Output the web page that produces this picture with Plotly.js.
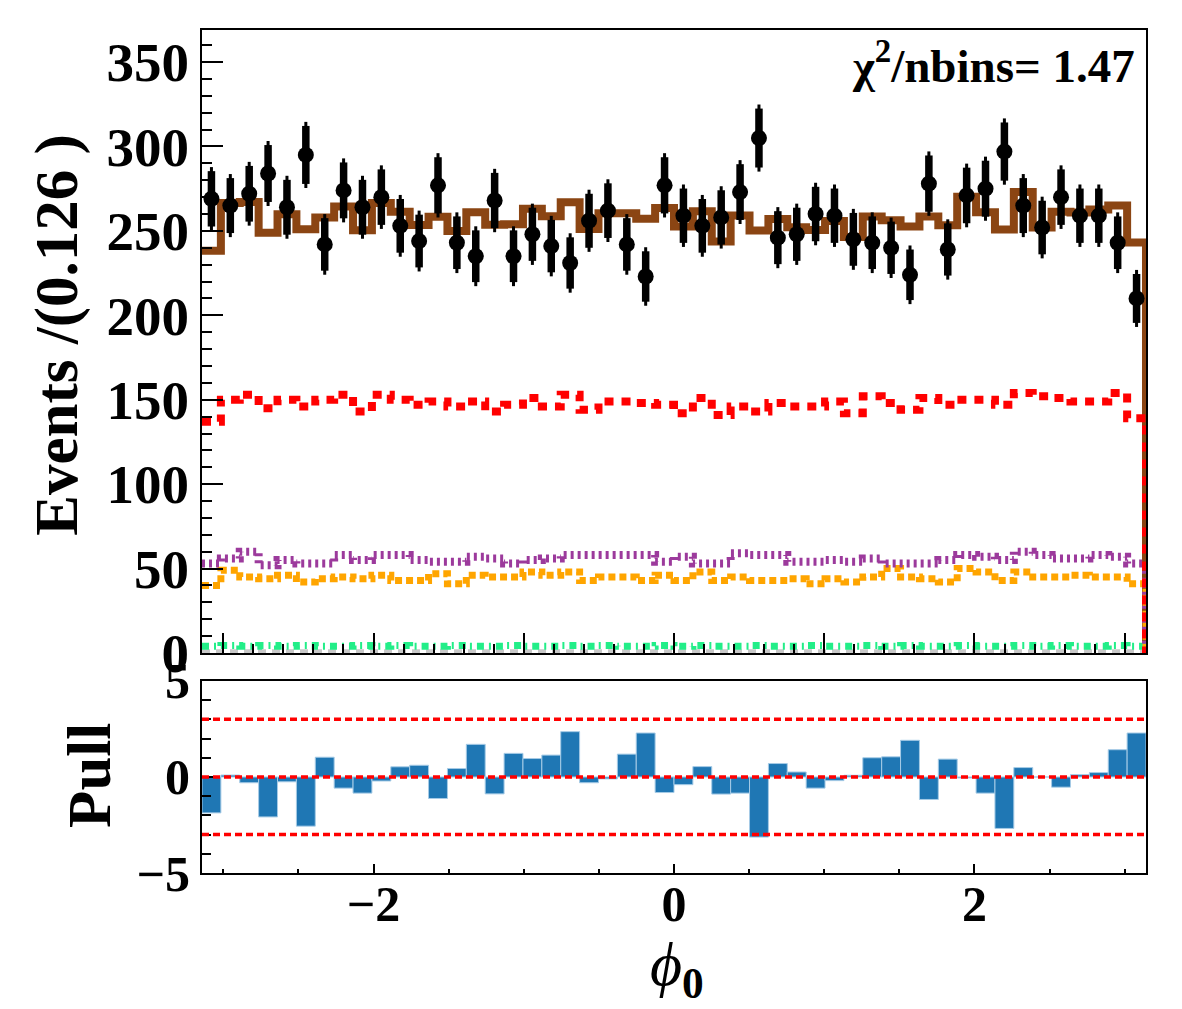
<!DOCTYPE html>
<html>
<head>
<meta charset="utf-8">
<script src="https://cdn.plot.ly/plotly-3.0.1.min.js"></script>
<style>
  html, body { margin: 0; padding: 0; background: #ffffff; }
  #chart { width: 1182px; height: 1009px; }
</style>
</head>
<body>
<div id="chart"></div>
<script>
// phi_0 distribution: 50 bins over [-pi, pi]
const nBins = 50;
const xMin = -Math.PI;
const xMax = Math.PI;

// observed events per bin
const dataCounts = [269,265,272,284,264,295,242,274,264,270,253,244,277,243,235,268,235,248,241,231,
                    256,262,242,223,277,259,253,258,273,305,246,248,260,259,245,243,240,224,278,239,
                    271,275,297,265,252,270,259,259,243,210];

// total fit model per bin
const fitTotal = [238.3,266.6,267.1,248.9,259.9,251.0,258.0,264.4,250.4,266.5,261.4,253.5,258.4,249.9,261.1,
                  253.6,253.9,263.1,258.7,266.9,251.2,260.4,260.5,257.2,263.5,252.6,261.6,243.7,259.1,250.3,
                  257.0,252.1,250.6,255.9,246.4,258.6,256.3,252.6,258.5,253.4,270.2,261.1,250.8,273.0,252.0,
                  261.3,260.9,262.7,265.1,243.2];

// fit components per bin
const compRed = [137,150,153,145,150,146,150,153,143,153,150,147,149,146,149,143,147,151,146,153,
                 144,149,149,148,147,142,151,141,146,143,148,146,146,149,142,152,148,144,151,147,
                 150,150,147,154,152,151,149,149,154,139];
const compPurple = [53,56,60,52,55,53,53,58,55,58,58,55,54,54,57,56,53,55,56,58,
                    58,58,58,58,54,57,53,53,59,58,58,54,54,55,54,56,53,53,53,55,
                    58,57,55,60,58,56,56,58,57,53];
const compOrange = [40,49,45,44,46,42,44,45,44,46,43,43,47,41,46,45,45,48,46,48,
                    43,45,45,43,46,43,48,43,45,43,43,44,41,44,42,45,50,45,44,42,
                    50,48,43,48,45,45,46,45,45,41];
const compGreen = [4,4.5,4,4.5,4,4.5,4,4,4.5,4,4.5,4,4,4.5,4,4,4.5,4,4,4.5,
                   4,4.5,4,4,4.5,4,4.5,4,4,4.5,4,4,4.5,4,4,4.5,4,4.5,4,4,
                   4.5,4,4,4.5,4,4.5,4,4,4.5,4];
const compGray = [0.8,0.8,0.8,0.8,0.8,0.8,0.8,0.8,0.8,0.8,0.8,0.8,0.8,0.8,0.8,0.8,0.8,0.8,0.8,0.8,
                  0.8,0.8,0.8,0.8,0.8,0.8,0.8,0.8,0.8,0.8,0.8,0.8,0.8,0.8,0.8,0.8,0.8,0.8,0.8,0.8,
                  0.8,0.8,0.8,0.8,0.8,0.8,0.8,0.8,0.8,0.8];

// pull per bin
const pulls = [-1.87,0.10,-0.30,-2.08,-0.25,-2.56,1.03,-0.58,-0.84,-0.21,0.53,0.61,-1.12,0.44,1.70,
               -0.88,1.23,0.96,1.14,2.36,-0.30,-0.10,1.19,2.29,-0.81,-0.40,0.54,-0.89,-0.84,-3.13,
               0.70,0.26,-0.58,-0.19,0.09,1.00,1.05,1.91,-1.17,0.93,-0.05,-0.84,-2.68,0.49,0.00,
               -0.53,0.12,0.23,1.42,2.29];
const pullRefLines = [-3, 0, 3];

const chiLabel = 'χ<sup>2</sup>/nbins= 1.47';

const binW = (xMax - xMin) / nBins;
const centers = dataCounts.map((_, i) => xMin + (i + 0.5) * binW);
const errs = dataCounts.map(v => Math.sqrt(v));
const errCaps = dataCounts.map(v => Math.sqrt(v) + 2.4);

// histogram outline: bin left edges with hv steps, dropping to zero at the upper edge
function stepTrace(vals, color, width, dash, name) {
  const xs = [], ys = [];
  for (let i = 0; i < nBins; i++) { xs.push(xMin + i * binW); ys.push(vals[i]); }
  xs.push(xMax); ys.push(vals[nBins - 1]);
  xs.push(xMax); ys.push(0);
  return {
    type: 'scatter', mode: 'lines', name: name, x: xs, y: ys,
    xaxis: 'x', yaxis: 'y', hoverinfo: 'skip',
    line: { shape: 'hv', color: color, width: width, dash: dash }
  };
}

const serif = 'Liberation Serif, DejaVu Serif, serif';

const traces = [
  stepTrace(fitTotal, '#8b4513', 8, 'solid', 'total'),
  stepTrace(compGray, '#c8c8c8', 5, '8px,6px', 'gray'),
  stepTrace(compGreen, '#22ee88', 7, '7px,5px,2px,5px', 'green'),
  stepTrace(compOrange, '#ffa500', 7, '7px,4px', 'orange'),
  stepTrace(compPurple, '#9c3a9c', 8, '3px,4px', 'purple'),
  stepTrace(compRed, '#ff0000', 8, '9px,8px', 'red'),
  {
    type: 'scatter', mode: 'markers', x: centers, y: dataCounts, xaxis: 'x', yaxis: 'y',
    marker: { size: 1, color: 'rgba(0,0,0,0)' },
    error_y: { type: 'data', array: errCaps, visible: true, color: '#000000', thickness: 3, width: 0 },
    hoverinfo: 'skip'
  },
  {
    type: 'scatter', mode: 'markers', name: 'data', x: centers, y: dataCounts, xaxis: 'x', yaxis: 'y',
    marker: { size: 16, color: '#000000', symbol: 'circle' },
    error_y: { type: 'data', array: errs, visible: true, color: '#000000', thickness: 7.5, width: 0 }
  },
  {
    type: 'bar', name: 'pull', x: centers, y: pulls, width: binW, xaxis: 'x2', yaxis: 'y2',
    marker: { color: '#1f77b4', line: { color: '#a6cbe6', width: 1 } }
  }
];

const shapes = pullRefLines.map(v => ({
  type: 'line', xref: 'x2', yref: 'y2', x0: xMin, x1: xMax, y0: v, y1: v,
  layer: 'above', line: { color: '#ff0000', width: 3.5, dash: '7px,4px' }
}));

const frame = { showline: true, linecolor: '#000000', linewidth: 2, mirror: true,
                showgrid: false, zeroline: false };

const layout = {
  width: 1182, height: 1009,
  margin: { l: 202, r: 36, t: 30, b: 136 },
  paper_bgcolor: '#ffffff', plot_bgcolor: '#ffffff',
  showlegend: false,
  bargap: 0,
  font: { family: serif, color: '#000000' },
  xaxis: Object.assign({}, frame, {
    domain: [0, 1], anchor: 'y', range: [xMin, xMax],
    showticklabels: false, ticks: 'inside', tick0: 0, dtick: 1, ticklen: 20, tickwidth: 2, tickcolor: '#000',
    minor: { ticks: 'inside', dtick: 0.2, tick0: 0, ticklen: 9, tickwidth: 2, tickcolor: '#000' }
  }),
  yaxis: Object.assign({}, frame, {
    domain: [0.261, 1], anchor: 'x', range: [0, 369],
    ticks: 'inside', tick0: 0, dtick: 50, ticklen: 21, tickwidth: 2, tickcolor: '#000',
    minor: { ticks: 'inside', dtick: 10, ticklen: 10, tickwidth: 2, tickcolor: '#000' },
    tickfont: { family: serif, size: 55, weight: 'bold', color: '#000' }
  }),
  xaxis2: Object.assign({}, frame, {
    domain: [0, 1], anchor: 'y2', range: [xMin, xMax],
    ticks: 'inside', tick0: 0, dtick: 2, ticklen: 9, tickwidth: 2, tickcolor: '#000',
    minor: { ticks: 'inside', dtick: 0.5, tick0: 0, ticklen: 4, tickwidth: 2, tickcolor: '#000' },
    ticklabelstandoff: -14,
    tickfont: { family: serif, size: 50, weight: 'bold', color: '#000' }
  }),
  yaxis2: Object.assign({}, frame, {
    domain: [0, 0.2278], anchor: 'x2', range: [-5, 5],
    ticks: 'inside', tick0: 0, dtick: 5, ticklen: 16, tickwidth: 2, tickcolor: '#000',
    minor: { ticks: 'inside', dtick: 1, ticklen: 9, tickwidth: 2, tickcolor: '#000' },
    tickfont: { family: serif, size: 50, weight: 'bold', color: '#000' }
  }),
  shapes: shapes,
  annotations: [
    { text: 'Events /(0.126 )', xref: 'paper', yref: 'paper', x: -0.153, y: 0.638,
      xanchor: 'center', yanchor: 'middle', textangle: -90, showarrow: false,
      font: { family: serif, size: 61, weight: 'bold', color: '#000' } },
    { text: 'Pull', xref: 'paper', yref: 'paper', x: -0.119, y: 0.116,
      xanchor: 'center', yanchor: 'middle', textangle: -90, showarrow: false,
      font: { family: serif, size: 61, weight: 'bold', color: '#000' } },
    { text: '<i>ϕ</i><sub><b>0</b></sub>', xref: 'paper', yref: 'paper', x: 0.503, y: -0.113,
      xanchor: 'center', yanchor: 'middle', showarrow: false,
      font: { family: serif, size: 62, weight: 'normal', color: '#000' } },
    { text: chiLabel, xref: 'paper', yref: 'paper', x: 0.990, y: 0.962,
      xanchor: 'right', yanchor: 'middle', showarrow: false,
      font: { family: serif, size: 47, weight: 'bold', color: '#000' } }
  ]
};

Plotly.newPlot('chart', traces, layout, { displayModeBar: false, staticPlot: true });
</script>
</body>
</html>
